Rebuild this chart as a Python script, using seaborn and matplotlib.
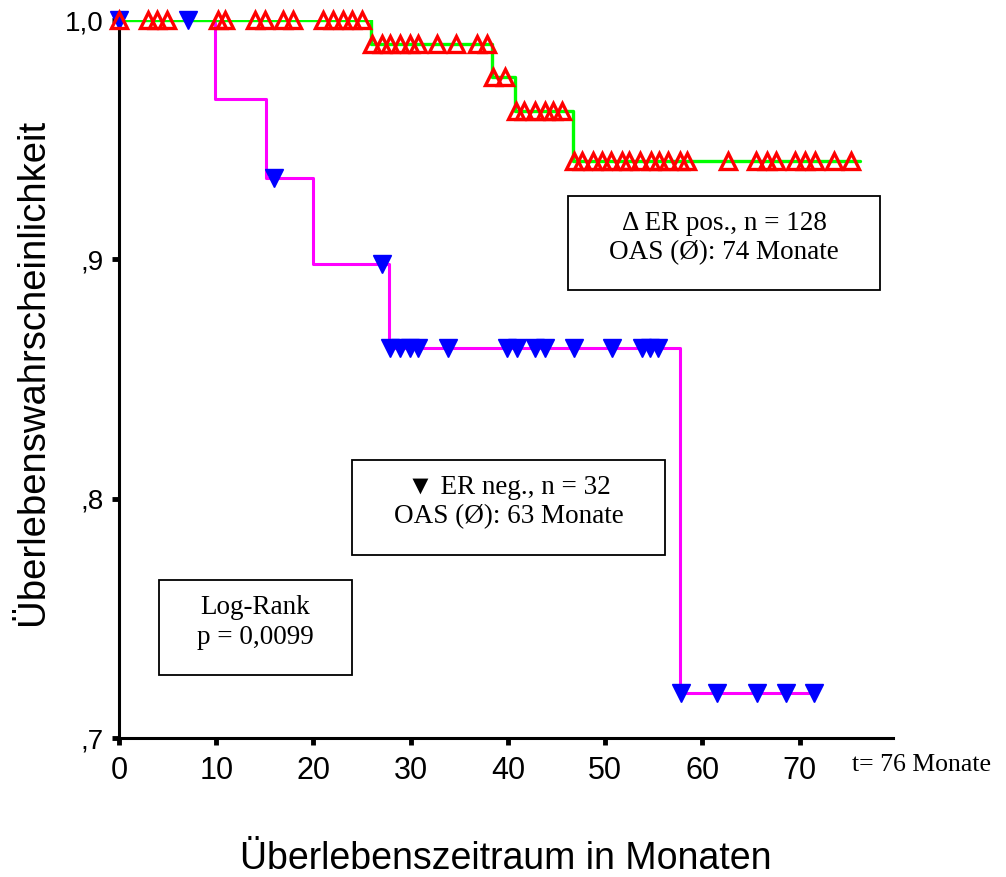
import numpy as np
import matplotlib
matplotlib.use("Agg")
import matplotlib.pyplot as plt
from matplotlib.patches import Rectangle
import seaborn as sns

# Kaplan-Meier steps (months, survival)
ER_POS_TIMES = [0, 25.9, 38.4, 40.7, 46.7, 76.2]
ER_POS_SURV = [1.0, 0.990, 0.976, 0.962, 0.941, 0.941]
ER_NEG_TIMES = [0, 9.9, 15.1, 20.0, 27.8, 57.7, 71.5]
ER_NEG_SURV = [1.0, 0.967, 0.934, 0.898, 0.863, 0.719, 0.719]

# censored observations (months)
ER_POS_CENSORED = [0, 3.0, 3.9, 4.9, 10.2, 10.9, 14.0, 15.0, 16.9, 17.9, 21.0, 22.0, 23.0,
                   24.0, 25.0, 26.0, 27.0, 27.9, 28.9, 29.9, 30.7, 32.7, 34.7, 36.8, 37.8,
                   38.5, 39.7, 40.8, 41.7, 42.8, 43.8, 44.6, 45.6, 46.8, 47.6, 48.7, 49.7,
                   50.6, 51.7, 52.5, 53.6, 54.7, 55.5, 56.5, 57.7, 58.4, 62.6, 65.5, 66.6,
                   67.6, 69.5, 70.5, 71.6, 73.5, 75.3]
ER_NEG_CENSORED = [0, 7.1, 15.9, 27.0, 27.9, 28.9, 29.9, 30.7, 33.8, 39.9, 40.9, 42.8, 43.8,
                   46.8, 50.7, 53.8, 54.6, 55.4, 57.8, 61.5, 65.6, 68.6, 71.5]

Y_TICKS = [0.7, 0.8, 0.9, 1.0]
Y_TICK_LABELS = [",7", ",8", ",9", "1,0"]
X_TICKS = [0, 10, 20, 30, 40, 50, 60, 70]


def level_at(times, surv, t):
    idx = np.searchsorted(times, t, side="right") - 1
    return np.asarray(surv)[idx]


sns.set_style("ticks")
plt.rcParams["font.family"] = ["Liberation Sans", "DejaVu Sans"]
for key in ["text.color", "axes.labelcolor", "xtick.color", "ytick.color"]:
    plt.rcParams[key] = "black"
SERIF = ["Liberation Serif", "DejaVu Serif", "DejaVu Sans"]

W, H = 1006, 877
fig = plt.figure(figsize=(W / 100, H / 100), dpi=100)
ax = fig.add_axes([119 / W, 1 - 738 / H, 774 / W, 718 / H])

# step curves
sns.lineplot(x=ER_NEG_TIMES, y=ER_NEG_SURV, drawstyle="steps-post", color="#ff00ff",
             lw=2.2, ax=ax, legend=False, zorder=2)
sns.lineplot(x=ER_POS_TIMES, y=ER_POS_SURV, drawstyle="steps-post", color="#00ff00",
             lw=2.4, ax=ax, legend=False, zorder=3)

# censor marks
neg_y = level_at(ER_NEG_TIMES, ER_NEG_SURV, ER_NEG_CENSORED)
pos_y = level_at(ER_POS_TIMES, ER_POS_SURV, ER_POS_CENSORED)
sns.lineplot(x=ER_NEG_CENSORED, y=neg_y, linestyle="none", marker="v", ms=12.5,
             mfc="#0000ff", mec="#0000ff", mew=1, ax=ax, legend=False, zorder=4, clip_on=False)
sns.lineplot(x=ER_POS_CENSORED, y=pos_y, linestyle="none", marker="^", ms=11.5,
             mfc="none", mec="#ff0000", mew=2.4, ax=ax, legend=False, zorder=5, clip_on=False)

ax.set_xlim(0, 79.6)
ax.set_ylim(0.7, 1.0)
ax.set_xticks(X_TICKS)
ax.set_xticklabels([str(v) for v in X_TICKS],
                   fontdict={"family": ["Liberation Sans Narrow", "Liberation Sans"], "size": 22})
ax.set_yticks(Y_TICKS)
ax.set_yticklabels(Y_TICK_LABELS, fontsize=20)
ax.tick_params(axis="both", direction="out", length=5, width=3.5, color="black")
ax.tick_params(axis="x", pad=8)
ax.tick_params(axis="y", pad=6)
for side in ["top", "right"]:
    ax.spines[side].set_visible(False)
for side in ["left", "bottom"]:
    ax.spines[side].set_linewidth(2.2)
    ax.spines[side].set_color("black")

ax.set_ylabel("Überlebenswahrscheinlichkeit", fontsize=27.5)
ax.yaxis.set_label_coords(-0.088, 0.51)
ax.set_xlabel("Überlebenszeitraum in Monaten", fontsize=27)
ax.xaxis.set_label_coords(0.5, -0.143)

fig.text(852 / W, 1 - 765 / H, "t= 76 Monate", family=SERIF, fontsize=18.5,
         ha="left", va="center")

# annotation boxes (pixel rectangles) with two lines each
boxes = [
    ((568, 196, 880, 290), ["Δ ER pos., n = 128", "OAS (Ø): 74 Monate"], (223, 253)),
    ((352, 460, 665, 555), ["▼ ER neg., n = 32", "OAS (Ø): 63 Monate"], (488, 517)),
    ((159, 580, 352, 675), ["Log-Rank", "p = 0,0099"], (608, 637)),
]
for (x0, y0, x1, y1), lines, ys in boxes:
    fig.patches.append(Rectangle((x0 / W, 1 - y1 / H), (x1 - x0) / W, (y1 - y0) / H,
                                 transform=fig.transFigure, fill=False,
                                 edgecolor="black", lw=1.3))
    for txt, yy in zip(lines, ys):
        fig.text((x0 + x1) / 2 / W, 1 - yy / H, txt, family=SERIF, fontsize=19.5,
                 ha="center", va="center")

fig.savefig("out.png", dpi=100)
